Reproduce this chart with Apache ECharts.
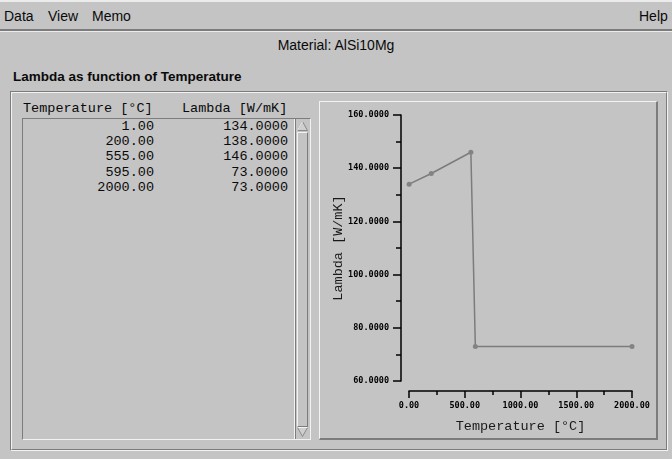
<!DOCTYPE html>
<html>
<head>
<meta charset="utf-8">
<title>Material: AlSi10Mg</title>
<script src="https://cdn.jsdelivr.net/npm/echarts@6/dist/echarts.min.js"></script>
<style>
  html, body { margin: 0; padding: 0; }
  body {
    width: 672px; height: 459px; overflow: hidden; position: relative;
    background: #c4c4c4; color: #0a0a0a;
    font-family: "Liberation Sans", Arial, sans-serif;
  }
  .abs { position: absolute; box-sizing: border-box; }
  #menubar { left: 0; top: 0; width: 672px; height: 31px;
    border-top: 2px solid #ececec; border-bottom: 2px solid #7c7c7c; }
  #menuline { left: 0; top: 31px; width: 672px; height: 1px; background: #ececec; }
  .menu { position: absolute; top: 6px; font-size: 14px; }
  #material { left: 0; width: 672px; top: 37px; text-align: center; font-size: 14px; }
  #section { left: 13px; top: 69px; font-size: 13.5px; font-weight: bold; }
  #frame { left: 10px; top: 91px; width: 658px; height: 360px;
    border-top: 1px solid #7c7c7c; border-left: 1px solid #7c7c7c;
    border-bottom: 1px solid #f2f2f2; border-right: 1px solid #f2f2f2; }
  #frameIn { left: 11px; top: 92px; width: 656px; height: 358px;
    border-top: 1px solid #f2f2f2; border-left: 1px solid #f2f2f2;
    border-bottom: 1px solid #7c7c7c; border-right: 1px solid #7c7c7c; }
  .mono { font-family: "Liberation Mono", "Courier New", monospace; font-size: 13.5px; white-space: pre; }
  #listbox { left: 22px; top: 118px; width: 289px; height: 322px;
    border-top: 1px solid #7c7c7c; border-left: 1px solid #7c7c7c;
    border-bottom: 1px solid #f2f2f2; border-right: 1px solid #f2f2f2; }
  #listsep { left: 294px; top: 119px; width: 1px; height: 320px; background: #f2f2f2; }
  #trough { left: 295px; top: 119px; width: 15px; height: 320px;
    border-left: 1px solid #7c7c7c; }
  #slider { left: 297px; top: 132px; width: 11px; height: 295px;
    border-top: 1px solid #f2f2f2; border-left: 1px solid #f2f2f2;
    border-bottom: 1px solid #7c7c7c; border-right: 1px solid #7c7c7c; }
  .cell { position: absolute; text-align: right; }
  #panel { left: 319px; top: 101px; width: 339px; height: 339px;
    border-top: 1px solid #f2f2f2; border-left: 1px solid #f2f2f2;
    border-bottom: 2px solid #7c7c7c; border-right: 2px solid #7c7c7c; }
  #chart { left: 320px; top: 102px; width: 336px; height: 336px; }
</style>
</head>
<body>
<div id="menubar" class="abs">
  <span class="menu" style="left:4px">Data</span>
  <span class="menu" style="left:48px">View</span>
  <span class="menu" style="left:92px">Memo</span>
  <span class="menu" style="left:639px">Help</span>
</div>
<div id="menuline" class="abs"></div>
<div id="material" class="abs">Material: AlSi10Mg</div>
<div id="section" class="abs">Lambda as function of Temperature</div>
<div id="frame" class="abs"></div>
<div id="frameIn" class="abs"></div>

<div class="abs mono" style="left:23px;top:101px">Temperature [°C]</div>
<div class="abs mono" style="left:182px;top:101px">Lambda [W/mK]</div>
<div id="listbox" class="abs"></div>
<div id="listsep" class="abs"></div>
<div id="trough" class="abs"></div>
<div id="slider" class="abs"></div>
<svg class="abs" style="left:296px;top:120px" width="13" height="12">
  <polygon points="1.5,10.5 6.5,1.5 11.5,10.5" fill="#cfcfcf" stroke="#8a8a8a" stroke-width="1"/>
  <polyline points="1.5,10.5 6.5,1.5" fill="none" stroke="#f2f2f2" stroke-width="1"/>
</svg>
<svg class="abs" style="left:296px;top:426px" width="13" height="12">
  <polygon points="1.5,1.5 6.5,10.5 11.5,1.5" fill="#cfcfcf" stroke="#8a8a8a" stroke-width="1"/>
  <polyline points="1.5,1.5 11.5,1.5" fill="none" stroke="#f2f2f2" stroke-width="1"/>
</svg>
<div id="rows"></div>

<div id="panel" class="abs"></div>
<div id="chart" class="abs"></div>

<script>
// Thermal conductivity table of AlSi10Mg
const temperatures = [1, 200, 555, 595, 2000];      // °C
const lambdas = [134, 138, 146, 73, 73];             // W/mK
const xRange = [0, 2000];
const xStep = 500;
const yRange = [60, 160];
const yStep = 20;

// list rows
const rows = document.getElementById('rows');
temperatures.forEach((t, i) => {
  const top = 119 + i * 15.2;
  const a = document.createElement('div');
  a.className = 'cell mono';
  a.style.cssText = 'left:23px;width:131px;top:' + top + 'px';
  a.textContent = t.toFixed(2);
  const b = document.createElement('div');
  b.className = 'cell mono';
  b.style.cssText = 'left:182px;width:106px;top:' + top + 'px';
  b.textContent = lambdas[i].toFixed(4);
  rows.appendChild(a);
  rows.appendChild(b);
});

// plot
const chart = echarts.init(document.getElementById('chart'), null, { renderer: 'canvas' });
const axisBlack = { color: '#000', width: 1.5 };
const tickFont = { fontFamily: '"DejaVu Sans Mono", monospace', fontWeight: 'bold', fontSize: 8.5, color: '#000' };
const nameFont = { fontFamily: '"Liberation Mono", "Courier New", monospace', fontSize: 13.5, color: '#1a1a1a' };

chart.setOption({
  animation: false,
  backgroundColor: 'transparent',
  grid: { left: 89, right: 24, top: 13, bottom: 57, containLabel: false, outerBoundsMode: 'none' },
  xAxis: {
    type: 'value', min: xRange[0], max: xRange[1], interval: xStep, offset: 10,
    axisLine: { show: true, onZero: false, lineStyle: axisBlack },
    axisTick: { show: true, length: 7, lineStyle: axisBlack },
    minorTick: { show: true, splitNumber: 2, length: 4, lineStyle: axisBlack },
    splitLine: { show: false },
    axisLabel: Object.assign({ margin: 10, formatter: v => v.toFixed(2) }, tickFont),
    name: 'Temperature [°C]', nameLocation: 'middle', nameGap: 28, nameMoveOverlap: false,
    nameTextStyle: nameFont
  },
  yAxis: {
    type: 'value', min: yRange[0], max: yRange[1], interval: yStep, offset: 8,
    axisLine: { show: true, onZero: false, lineStyle: axisBlack },
    axisTick: { show: true, length: 8, lineStyle: axisBlack },
    minorTick: { show: true, splitNumber: 2, length: 5, lineStyle: axisBlack },
    splitLine: { show: false },
    axisLabel: Object.assign({ margin: 12, formatter: v => v.toFixed(4) }, tickFont),
    name: 'Lambda [W/mK]', nameLocation: 'middle', nameGap: 56, nameMoveOverlap: false,
    nameTextStyle: nameFont
  },
  series: [{
    type: 'line',
    data: temperatures.map((t, i) => [t, lambdas[i]]),
    symbol: 'circle', symbolSize: 5, showSymbol: true,
    itemStyle: { color: '#838383' },
    lineStyle: { color: '#7c7c7c', width: 1.5 },
    emphasis: { disabled: true }
  }]
});
</script>
</body>
</html>
